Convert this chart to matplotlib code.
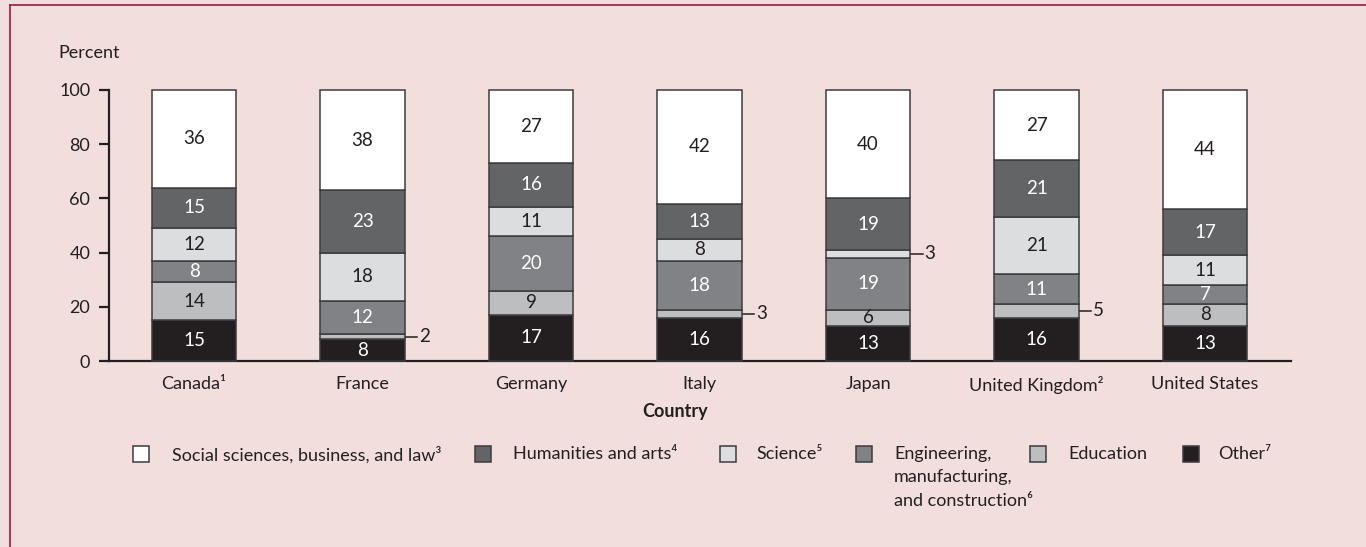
import matplotlib
matplotlib.use("Agg")
import matplotlib.pyplot as plt
from matplotlib.patches import Rectangle
from matplotlib.lines import Line2D
import numpy as np

# ---- data ----
countries = ["Canada\u00b9", "France", "Germany", "Italy", "Japan",
             "United Kingdom\u00b2", "United States"]
other = [15, 8, 17, 16, 13, 16, 13]
education = [14, 2, 9, 3, 6, 5, 8]
engineering = [8, 12, 20, 18, 19, 11, 7]
science = [12, 18, 11, 8, 3, 21, 11]
humanities = [15, 23, 16, 13, 19, 21, 17]
social = [36, 38, 27, 42, 40, 27, 44]

series_names = ["Other\u2077", "Education", "Engineering,\nmanufacturing,\nand construction\u2076",
                "Science\u2075", "Humanities and arts\u2074",
                "Social sciences, business, and law\u00b3"]
series_vals = [other, education, engineering, science, humanities, social]
series_colors = ["#231F20", "#BCBEC0", "#808285", "#DCDDDF", "#636466", "#FFFFFF"]
label_colors = ["white", "#231F20", "white", "#231F20", "white", "#231F20"]
yticks = [0, 20, 40, 60, 80, 100]

FONT = ["Lato", "DejaVu Sans"]
plt.rcParams['font.family'] = FONT
BG = "#F2DEDC"
TXT = "#231F20"
EDGE = "#3C3B3D"
FS = 13
VFS = 13.5

W, H = 1366, 547
fig = plt.figure(figsize=(W / 100, H / 100), dpi=100, facecolor=BG)

def fx(px):
    return px / W

def fy(py):
    return 1 - py / H

ax = fig.add_axes([fx(109), fy(361), fx(1291) - fx(109), fy(90) - fy(361)])
ax.set_facecolor(BG)
ax.patch.set_alpha(0)

x = np.arange(len(countries))
bw = 0.5
bottom = np.zeros(len(countries))
n_series = len(series_vals)
for k, (vals, col, lcol) in enumerate(zip(series_vals, series_colors, label_colors)):
    vals = np.array(vals, dtype=float)
    # the top segment fills the bar up to 100 percent (rounded shares)
    heights = (100 - bottom) if k == n_series - 1 else vals
    ax.bar(x, heights, bw, bottom=bottom, color=col, edgecolor=EDGE, linewidth=1.1,
           clip_on=False, zorder=3)
    for xi, v, h, b in zip(x, vals, heights, bottom):
        mid = b + h / 2
        if v <= 5:
            x0 = xi + bw / 2
            ax.plot([x0 + 0.005, x0 + 0.075], [mid, mid], color=TXT, lw=1.1,
                    clip_on=False, zorder=4)
            ax.text(x0 + 0.085, mid, f"{int(v)}", ha="left", va="center",
                    fontsize=VFS, color=TXT, zorder=4)
        else:
            ax.text(xi, mid, f"{int(v)}", ha="center", va="center",
                    fontsize=VFS, color=lcol, zorder=4)
    bottom += heights

ax.set_xlim(-0.505, 6.51)
ax.set_ylim(0, 100)
ax.set_yticks(yticks)
ax.set_yticklabels([str(t) for t in yticks])
ax.set_xticks(x)
ax.set_xticklabels(countries)
for s in ["top", "right"]:
    ax.spines[s].set_visible(False)
ax.spines["left"].set_linewidth(1.6)
ax.spines["bottom"].set_linewidth(1.6)
ax.spines["left"].set_color(TXT)
ax.spines["bottom"].set_color(TXT)
ax.tick_params(axis="y", length=7.5, width=1.6, pad=6, labelsize=FS, colors=TXT)
ax.tick_params(axis="x", length=0, pad=10.5, labelsize=FS, colors=TXT)

fig.text(fx(58), fy(53), "Percent", ha="left", va="center", fontsize=FS, color=TXT)
fig.text(fx(675), fy(411), "Country", ha="center", va="center", fontsize=FS,
         fontweight="bold", color=TXT)

# ---- legend ----
leg_sq_x = [133, 475, 720, 856, 1030, 1183]
leg_tx_x = [172, 513, 756, 894, 1068, 1218]
leg_order = [5, 4, 3, 2, 1, 0]
for sx, tx, idx in zip(leg_sq_x, leg_tx_x, leg_order):
    fig.add_artist(Rectangle((fx(sx), fy(462)), fx(16), 16 / H,
                             facecolor=series_colors[idx], edgecolor=EDGE, lw=1.1,
                             transform=fig.transFigure))
    fig.text(fx(tx), fy(446), series_names[idx], ha="left", va="top",
             fontsize=FS, color=TXT, linespacing=1.57)

# ---- frame ----
fig.add_artist(Line2D([fx(10), fx(10)], [0, fy(5)], color="#A6193C", lw=1.2,
                      transform=fig.transFigure))
fig.add_artist(Line2D([fx(10), 1], [fy(5), fy(5)], color="#A6193C", lw=1.2,
                      transform=fig.transFigure))

fig.savefig("out.png", dpi=100, facecolor=BG)
